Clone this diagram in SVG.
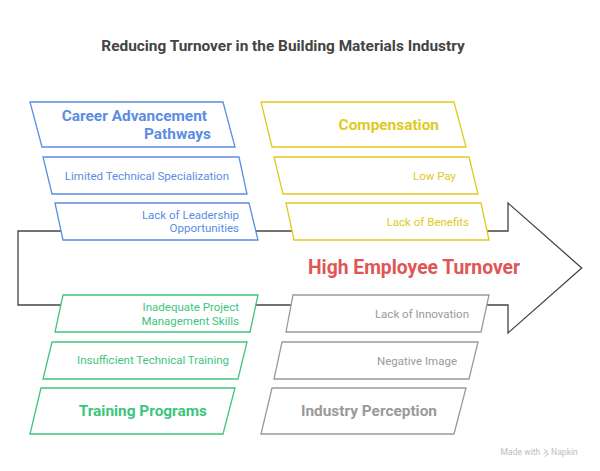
<svg xmlns="http://www.w3.org/2000/svg" width="600" height="471" viewBox="0 0 600 471">
<style>
  text { font-family: Roboto, "Liberation Sans", sans-serif; }
  .box { fill: #ffffff; stroke-width: 1.3; stroke-linejoin: miter; }
  .blue { stroke: #5B8DE3; }
  .yellow { stroke: #E2C91F; }
  .green { stroke: #3EC57C; }
  .grey { stroke: #9A9A9A; }
  .tb { fill: #5B8DE3; }
  .ty { fill: #E2C91F; }
  .tg { fill: #3EC57C; }
  .tgr { fill: #9A9A9A; }
  .head { font-size: 15.4px; font-weight: bold; text-anchor: end; }
  .item { font-size: 11.5px; text-anchor: end; }
</style>
<rect width="600" height="471" fill="#ffffff"/>
<text x="283" y="51" font-size="15.4" font-weight="bold" fill="#444444" text-anchor="middle">Reducing Turnover in the Building Materials Industry</text>
<g id="connectors">
  <path d="M18,231 H508 V203 L581.7,268 L508,333 V305 H18 Z" fill="#ffffff" stroke="#444444" stroke-width="1.3"/>
</g>
<g id="center">
  <text x="308" y="274" font-size="19.3" font-weight="bold" fill="#E05555">High Employee Turnover</text>
</g>
<g id="career">
  <polygon class="box blue" points="30,102 223,102 235,147 42,147"/>
  <text class="head tb" x="207" y="121">Career Advancement</text>
  <text class="head tb" x="211" y="139">Pathways</text>
</g>
<g id="limited-specialization">
  <polygon class="box blue" points="43,157 239,157 247,194 52,194"/>
  <text class="item tb" x="229" y="179.5">Limited Technical Specialization</text>
</g>
<g id="leadership">
  <polygon class="box blue" points="55,203 249,203 258,240 63,240"/>
  <text class="item tb" x="239" y="218.5">Lack of Leadership</text>
  <text class="item tb" x="239" y="232">Opportunities</text>
</g>
<g id="compensation">
  <polygon class="box yellow" points="261,102 454,102 466,147 272,147"/>
  <text class="head ty" x="439" y="130">Compensation</text>
</g>
<g id="low-pay">
  <polygon class="box yellow" points="274,157 469,157 478,194 283,194"/>
  <text class="item ty" x="456" y="179.5">Low Pay</text>
</g>
<g id="benefits">
  <polygon class="box yellow" points="286,203 481,203 489,240 294,240"/>
  <text class="item ty" x="469" y="225.5">Lack of Benefits</text>
</g>
<g id="project-management">
  <polygon class="box green" points="63,295 258,295 250,332 55,332"/>
  <text class="item tg" x="239" y="310.5">Inadequate Project</text>
  <text class="item tg" x="239" y="324.5">Management Skills</text>
</g>
<g id="technical-training">
  <polygon class="box green" points="52,342 247,342 238,379 43,379"/>
  <text class="item tg" x="229" y="364">Insufficient Technical Training</text>
</g>
<g id="training">
  <polygon class="box green" points="41,388 235,388 223,434 30,434"/>
  <text class="head tg" x="207" y="416">Training Programs</text>
</g>
<g id="innovation">
  <polygon class="box grey" points="293,295 489,295 481,332 286,332"/>
  <text class="item tgr" x="469" y="318">Lack of Innovation</text>
</g>
<g id="negative-image">
  <polygon class="box grey" points="282,342 478,342 469,379 274,379"/>
  <text class="item tgr" x="457" y="364.5">Negative Image</text>
</g>
<g id="industry">
  <polygon class="box grey" points="272,388 466,388 454,434 261,434"/>
  <text class="head tgr" x="437" y="416">Industry Perception</text>
</g>
<g id="watermark" fill="#BDBDBD">
  <text x="500.5" y="455" font-size="8.6">Made with</text>
  <path d="M543.5,449 L548,451.5 L543.5,454 M544.5,451.5 L548.5,454 L544.5,456.5" fill="none" stroke="#BDBDBD" stroke-width="0.8"/>
  <text x="551" y="455" font-size="8.6">Napkin</text>
</g>
</svg>
